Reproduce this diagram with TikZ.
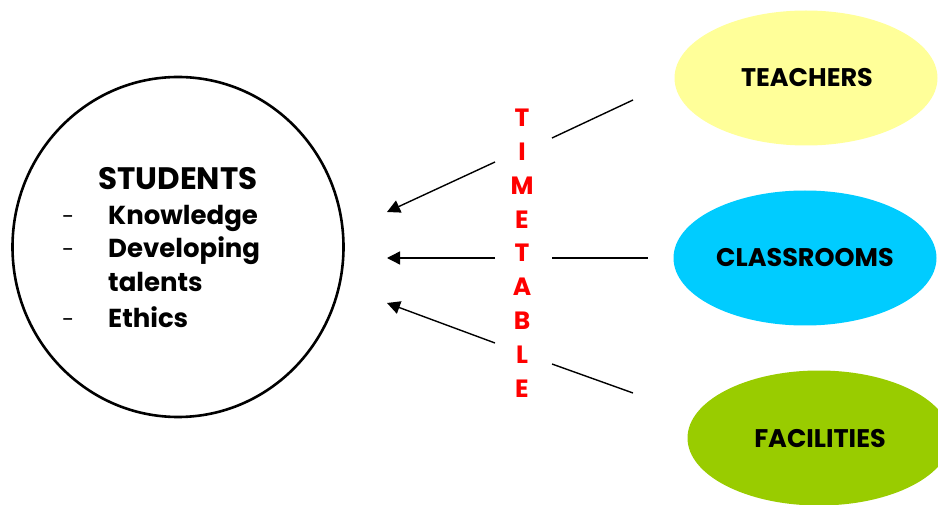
\documentclass[tikz,border=0pt]{standalone}
\usepackage{fontspec}
\setmainfont{Poppins}
\usetikzlibrary{shapes.geometric,arrows.meta}
\definecolor{teachY}{HTML}{FFFF99}
\definecolor{classB}{HTML}{00CCFF}
\definecolor{facG}{HTML}{99CC00}
\definecolor{ttRed}{HTML}{FF0000}
\tikzset{
  blob/.style={ellipse, draw=none, minimum width=263pt, minimum height=135pt, inner sep=0pt},
  lab/.style={font=\bfseries\fontsize{25.5}{25.5}\selectfont, inner sep=0pt},
  item/.style={font=\bfseries\fontsize{26}{26}\selectfont, inner sep=0pt, anchor=base west},
  bulletdash/.style={font=\fontsize{22}{22}\selectfont, inner sep=0pt, anchor=base west},
  ttl/.style={font=\bfseries\fontsize{25}{25}\selectfont, text=ttRed, inner sep=0pt, anchor=base},
  conn/.style={line width=1.4pt},
  arr/.style={conn, -{Triangle[length=13pt,width=13pt]}}
}
\begin{document}
\begin{tikzpicture}[x=1pt,y=-1pt]
\useasboundingbox (0,0) rectangle (938,505);
% students circle
\node[ellipse, draw, line width=2.6pt, minimum width=331pt, minimum height=340pt] (stu) at (178,247) {};
\node[font=\bfseries\fontsize{31}{31}\selectfont, inner sep=0pt, anchor=base] (stt) at (178,190) {STUDENTS};
\node[bulletdash] (d1) at (62,225) {-};
\node[bulletdash] (d2) at (62,258) {-};
\node[bulletdash] (d3) at (62,327) {-};
\node[item] (i1) at (108,225) {Knowledge};
\node[item] (i2) at (108,258) {Developing};
\node[item] (i3) at (108,292) {talents};
\node[item] (i4) at (108,327) {Ethics};
% timetable
\foreach \L [count=\k] in {T,I,M,E,T,A,B,L,E} {
  \node[ttl] (tt\k) at (522,{127+33.75*(\k-1)}) {\L};
}
% ellipses
\node[blob, fill=teachY] (tea) at (806,78) {};
\node[lab, anchor=base] (teat) at (807,87) {TEACHERS};
\node[blob, fill=classB] (cla) at (805,258) {};
\node[lab, anchor=base] (clat) at (805,267) {CLASSROOMS};
\node[blob, fill=facG] (fac) at (819,438) {};
\node[lab, anchor=base] (fact) at (820,447) {FACILITIES};
% connector coordinates
\coordinate (a1s) at (495,162); \coordinate (a1e) at (387,212);
\coordinate (a2s) at (495,258); \coordinate (a2e) at (387,258);
\coordinate (a3s) at (495,343); \coordinate (a3e) at (387,303);
\coordinate (r1s) at (552,138); \coordinate (r1e) at (633,100);
\coordinate (r2s) at (552,258); \coordinate (r2e) at (648,258);
\coordinate (r3s) at (552,364); \coordinate (r3e) at (633,393);
\draw[arr] (a1s) -- (a1e);
\draw[arr] (a2s) -- (a2e);
\draw[arr] (a3s) -- (a3e);
\draw[conn] (r1s) -- (r1e);
\draw[conn] (r2s) -- (r2e);
\draw[conn] (r3s) -- (r3e);
\end{tikzpicture}
\end{document}
